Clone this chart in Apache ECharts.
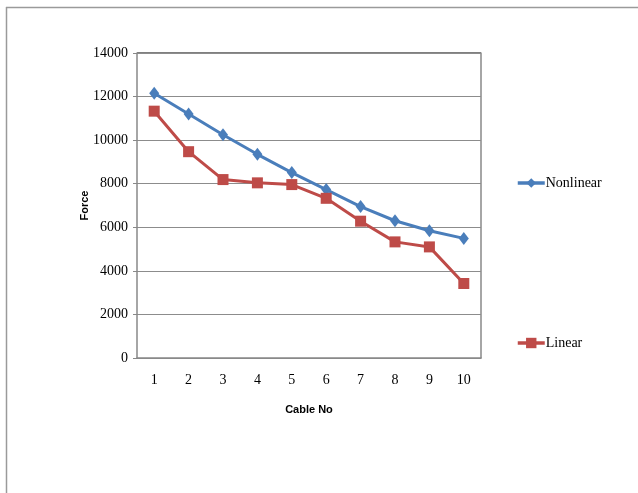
<!DOCTYPE html>
<html>
<head>
<meta charset="utf-8">
<script src="https://cdn.jsdelivr.net/npm/echarts@6/dist/echarts.min.js"></script>
<style>
html,body{margin:0;padding:0;background:#fff;}
#chart{width:638px;height:493px;}
</style>
</head>
<body>
<div id="chart"></div>
<script>
const categories = ['1','2','3','4','5','6','7','8','9','10'];
const nonlinear = [12150, 11200, 10250, 9350, 8510, 7730, 6950, 6300, 5840, 5490];
const linear = [11330, 9470, 8190, 8040, 7960, 7330, 6280, 5330, 5100, 3420];
const yTicks = { min: 0, max: 14000, interval: 2000 };

const chart = echarts.init(document.getElementById('chart'));
const serif = 'Liberation Serif';
chart.setOption({
  animation: false,
  backgroundColor: '#fff',
  graphic: [
    { type: 'line', shape: { x1: 6, y1: 7.5, x2: 638, y2: 7.5 }, style: { stroke: '#9a9a9a', lineWidth: 1.5 } },
    { type: 'line', shape: { x1: 6.5, y1: 7, x2: 6.5, y2: 493 }, style: { stroke: '#9a9a9a', lineWidth: 1.5 } },
    { type: 'line', shape: { x1: 137, y1: 53, x2: 481, y2: 53 }, style: { stroke: '#555', lineWidth: 1.5 } },
    { type: 'line', shape: { x1: 481, y1: 52.5, x2: 481, y2: 358.5 }, style: { stroke: '#888', lineWidth: 1.5 } }
  ],
  grid: { left: 137, top: 53, right: 157, bottom: 135, containLabel: false },
  legend: [
    {
      data: ['Nonlinear'], left: 511, top: 171, orient: 'vertical',
      itemWidth: 27, itemHeight: 12, itemGap: 2,
      lineStyle: { width: 3.5 },
      textStyle: { fontFamily: serif, fontSize: 14, color: '#000', padding: [0,0,0,-4] }
    },
    {
      data: ['Linear'], left: 511, top: 331, orient: 'vertical',
      itemWidth: 27, itemHeight: 13, itemGap: 2,
      lineStyle: { width: 3.5 },
      textStyle: { fontFamily: serif, fontSize: 14, color: '#000', padding: [0,0,0,-4] }
    }
  ],
  xAxis: {
    type: 'category',
    data: categories,
    boundaryGap: true,
    name: 'Cable No',
    nameLocation: 'middle',
    nameGap: 46,
    nameTextStyle: { fontFamily: 'Liberation Sans', fontWeight: 'bold', fontSize: 11, color: '#000' },
    axisLine: { lineStyle: { color: '#888', width: 1.5 } },
    axisTick: { show: false },
    axisLabel: { fontFamily: serif, fontSize: 14, color: '#000', margin: 15 },
    splitLine: { show: false }
  },
  yAxis: {
    type: 'value',
    min: yTicks.min, max: yTicks.max, interval: yTicks.interval,
    name: 'Force',
    nameLocation: 'middle',
    nameGap: 47,
    nameMoveOverlap: false,
    nameTextStyle: { fontFamily: 'Liberation Sans', fontWeight: 'bold', fontSize: 11, color: '#000' },
    axisLine: { show: true, lineStyle: { color: '#888', width: 1.5 } },
    axisTick: { show: true, length: 4, lineStyle: { color: '#888' } },
    axisLabel: { fontFamily: serif, fontSize: 14, color: '#000', margin: 9, formatter: v => String(v) },
    splitLine: { lineStyle: { color: '#8c8c8c', width: 1 } }
  },
  series: [
    {
      name: 'Nonlinear', type: 'line', data: nonlinear,
      symbol: 'diamond', symbolSize: [10, 13],
      lineStyle: { color: '#4A7EBB', width: 3 },
      itemStyle: { color: '#4A7EBB' }
    },
    {
      name: 'Linear', type: 'line', data: linear,
      symbol: 'rect', symbolSize: 11,
      lineStyle: { color: '#BE4B48', width: 3 },
      itemStyle: { color: '#BE4B48' }
    }
  ]
});
</script>
</body>
</html>
